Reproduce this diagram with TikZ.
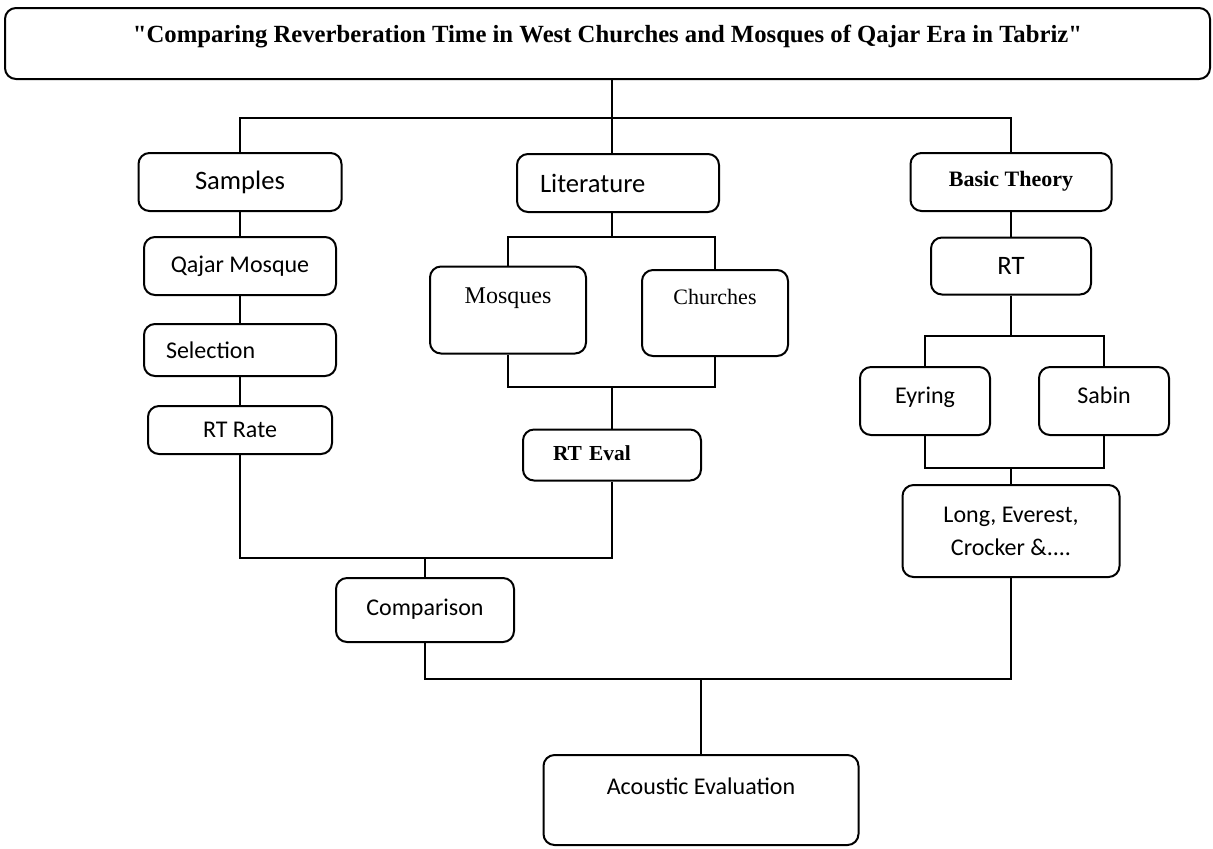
\documentclass[tikz,border=0pt]{standalone}
\usepackage{fontspec}
\setmainfont{Carlito}
\newfontfamily\serifface{Liberation Serif}
\usetikzlibrary{positioning}
\tikzset{
  chart/.style={
	x=0.5pt, y=-0.5pt, % one unit is one pixel of the sketch
	line width=1pt, % boxes and connectors share the same pen
	node distance=42pt, % default step between stacked boxes
  },
  box/.style={draw, rounded corners=5.5pt, align=center, inner sep=2pt, font=\fontsize{12}{16.5}\selectfont}, % plain sans box
  bigbox/.style={box, font=\fontsize{13.3}{16}\selectfont}, % column heads
  serifbox/.style={box, font=\serifface\fontsize{#1}{14}\selectfont}, % serif labels
  boldbox/.style={box, font=\serifface\bfseries\fontsize{#1}{14}\selectfont}, % bold serif labels
  lift/.style={text height=9pt, text depth=#1}, % pushes the label up in a tall box
}
\begin{document}
\begin{tikzpicture}[chart]
\useasboundingbox (0,0) rectangle (1213,848);
\node[boldbox=12.35, lift=10.5pt, minimum width=602.5pt, minimum height=35.5pt] at (607.5,43.5) (title) {"Comparing Reverberation Time in West Churches and Mosques of Qajar Era in Tabriz"};
% the three columns
\node[bigbox, minimum width=101.5pt, minimum height=29pt] at (240,182) (samples) {Samples};
\node[bigbox, minimum width=101pt, minimum height=29pt, text width=78pt, inner xsep=11.5pt, align=left] at (618,183) (literature) {Literature};
\node[boldbox=11, lift=5pt, minimum width=100.5pt, minimum height=29pt] at (1011,182) (basic) {Basic Theory};
% samples column
\node[box, , below of=samples, yshift=0pt, xshift=0pt, minimum width=96pt, minimum height=29pt] (qajar) {Qajar Mosque};
\node[box, , below of=qajar, yshift=0pt, xshift=0pt, minimum width=96pt, minimum height=26pt, text width=74pt, inner xsep=11pt, align=left] (selection) {Selection};
\node[box, , below of=selection, yshift=2pt, xshift=0pt, minimum width=92pt, minimum height=24pt] (rtrate) {RT Rate};
% literature column
\node[serifbox=12, lift=15.5pt, below of=literature, yshift=-21.5pt, xshift=-55pt, minimum width=78pt, minimum height=43.5pt] (mosques) {Mosques};
\node[serifbox=11, lift=18pt, below of=literature, yshift=-23pt, xshift=48.5pt, minimum width=73pt, minimum height=43pt] (churches) {Churches};
\node[boldbox=10.7, lift=3.5pt, below of=literature, yshift=-94pt, xshift=-3pt, minimum width=89pt, minimum height=25.5pt, text width=59pt, inner xsep=15pt, align=left] (rteval) {RT Eval};
% theory column
\node[bigbox, , below of=basic, yshift=0pt, xshift=0pt, minimum width=80pt, minimum height=28.5pt] (rt) {RT};
\node[box, lift=7pt, below of=rt, yshift=-25.5pt, xshift=-43pt, minimum width=65pt, minimum height=34pt] (eyring) {Eyring};
\node[box, lift=7pt, right of=eyring, yshift=0pt, xshift=47.5pt, minimum width=65pt, minimum height=34pt] (sabin) {Sabin};
\node[box, , below of=rt, yshift=-90.5pt, xshift=0pt, minimum width=108.5pt, minimum height=46pt] (long) {Long, Everest,\\Crocker \&....};
% results
\node[box, lift=4pt, below of=rtrate, yshift=-48pt, xshift=92.5pt, minimum width=89pt, minimum height=32pt] (comparison) {Comparison};
\node[box, lift=15pt, below of=comparison, yshift=-53pt, xshift=138pt, minimum width=157.5pt, minimum height=45pt] (acoustic) {Acoustic Evaluation};
% junctions of the connectors
\coordinate (top) at (612,118);
\coordinate (litsplit) at (612,237);
\coordinate (litjoin) at (612,387);
\coordinate (rtsplit) at (1011,336);
\coordinate (rtjoin) at (1011,468);
\coordinate (midjoin) at (425,558);
\coordinate (endjoin) at (701,679);
\draw   (title.south -| top) -- (top)
	(samples.north) |- (top) -| (basic.north)
	(top) -- (top |- literature.north)
	(samples) -- (qajar)
	(qajar) -- (selection)
	(selection) -- (rtrate)
	(literature.south -| litsplit) -- (litsplit)
	(mosques.north) |- (litsplit) -| (churches.north)
	(mosques.south) |- (litjoin) -| (churches.south)
	(litjoin) -- (rteval)
	(rtrate.south) |- (midjoin) -| (rteval.south)
	(midjoin) -- (comparison)
	(basic) -- (rt)
	(rt.south) -- (rtsplit)
	(eyring.north) |- (rtsplit) -| (sabin.north)
	(eyring.south) |- (rtjoin) -| (sabin.south)
	(rtjoin) -- (long)
	(comparison.south) |- (endjoin) -| (long.south)
	(endjoin) -- (acoustic)
;
\end{tikzpicture}
\end{document}
